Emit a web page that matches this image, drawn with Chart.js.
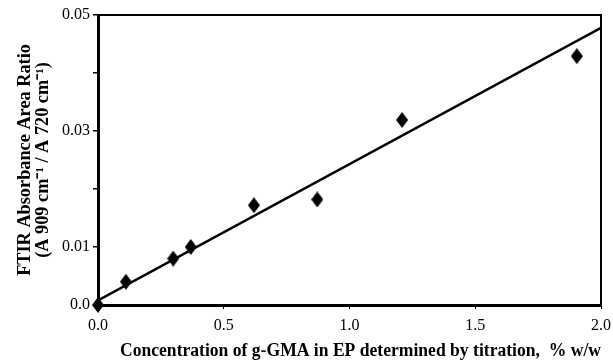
<!DOCTYPE html>
<html>
<head>
<meta charset="utf-8">
<script src="https://cdn.jsdelivr.net/npm/chart.js@4"></script>
<style>
html, body { margin: 0; padding: 0; background: #fff; }
</style>
</head>
<body>
<canvas id="grafico" width="613" height="364"></canvas>
<script>
// measured points (concentration by titration vs FTIR ratio)
const concX = [0, 0.111, 0.299, 0.369, 0.620, 0.872, 1.209, 1.904];
const ratioY = [0, 0.0040, 0.0080, 0.0100, 0.0172, 0.0182, 0.0319, 0.0429];
// fitted straight line end points
const fitX = [0, 2.0];
const fitY = [0.0008, 0.0478];
const xTicks = [0, 0.5, 1.0, 1.5, 2.0];
const yTicks = [0, 0.01, 0.02, 0.03, 0.04, 0.05];
const yLabels = ['0.0', '0.01', '', '0.03', '', '0.05'];

const serif = 'Liberation Serif';

// tall black diamond used as marker
const diamond = document.createElement('canvas');
diamond.width = 12;
diamond.height = 16;
const dctx = diamond.getContext('2d');
dctx.fillStyle = '#000';
dctx.beginPath();
dctx.moveTo(6, 0);
dctx.lineTo(12, 8);
dctx.lineTo(6, 16);
dctx.lineTo(0, 8);
dctx.closePath();
dctx.fill();

const frame = {
    id: 'frame',
    afterDraw(chart) {
        const { ctx, chartArea: a } = chart;
        ctx.save();
        ctx.strokeStyle = '#000';
        ctx.lineWidth = 2;
        ctx.beginPath();
        ctx.moveTo(a.left, a.top);
        ctx.lineTo(a.right, a.top);
        ctx.lineTo(a.right, a.bottom);
        ctx.stroke();
        ctx.restore();
    }
};

const ctx = document.getElementById('grafico').getContext('2d');
const grafico = new Chart(ctx, {
    type: 'scatter',
    data: {
        datasets: [{
            type: 'line',
            data: fitX.map((x, i) => ({ x: x, y: fitY[i] })),
            borderColor: '#000',
            borderWidth: 2.5,
            pointRadius: 0,
            fill: false,
            order: 2
        }, {
            data: concX.map((x, i) => ({ x: x, y: ratioY[i] })),
            pointStyle: diamond,
            pointRadius: 8,
            backgroundColor: '#000',
            borderColor: '#000',
            order: 1,
            clip: false
        }]
    },
    plugins: [frame],
    options: {
        responsive: false,
        animation: false,
        devicePixelRatio: 1,
        layout: {
            padding: { top: 15, right: 12, left: 0, bottom: 0 }
        },
        plugins: {
            legend: { display: false },
            tooltip: { enabled: false }
        },
        scales: {
            x: {
                type: 'linear',
                min: 0,
                max: 2,
                afterBuildTicks: (scale) => { scale.ticks = xTicks.map(v => ({ value: v })); },
                afterFit: (scale) => {
                    scale.height = 59;
                    scale.paddingLeft = 0;
                    scale.paddingRight = 0;
                },
                ticks: {
                    color: '#000',
                    font: { family: serif, size: 16 },
                    padding: 7,
                    maxRotation: 0,
                    callback: (v) => v.toFixed(1)
                },
                grid: {
                    drawOnChartArea: false,
                    color: '#000',
                    tickLength: 4,
                    lineWidth: 1
                },
                border: { display: true, color: '#000', width: 3 },
                title: {
                    display: true,
                    text: '     Concentration of g-GMA in EP determined by titration,  % w/w',
                    color: '#000',
                    font: { family: serif, size: 19.6, weight: 'bold', lineHeight: 1 },
                    padding: { top: 0, bottom: 3 }
                }
            },
            y: {
                type: 'linear',
                min: 0,
                max: 0.05,
                afterBuildTicks: (scale) => { scale.ticks = yTicks.map(v => ({ value: v })); },
                afterFit: (scale) => { scale.width = 98; },
                ticks: {
                    color: '#000',
                    font: { family: serif, size: 16 },
                    padding: 3,
                    callback: (v, i) => yLabels[i]
                },
                grid: {
                    drawOnChartArea: false,
                    color: '#000',
                    tickLength: 5,
                    lineWidth: 1.5
                },
                border: { display: true, color: '#000', width: 3 },
                title: {
                    display: true,
                    text: ['FTIR Absorbance Area Ratio', '(A 909 cm\u207B\u00B9 / A 720 cm\u207B\u00B9)'],
                    color: '#000',
                    font: { family: serif, size: 18.3, weight: 'bold', lineHeight: 1 },
                    padding: { top: 16, bottom: 0 }
                }
            }
        }
    }
});
</script>
</body>
</html>
